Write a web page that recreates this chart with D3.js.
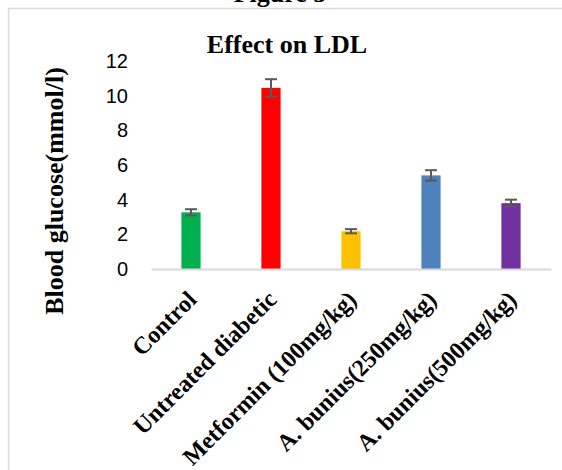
<!DOCTYPE html>
<html>
<head>
<meta charset="utf-8">
<script src="https://cdn.jsdelivr.net/npm/d3@7"></script>
<style>
  body { margin: 0; background: #fff; }
  svg { display: block; }
</style>
</head>
<body>
<script>
// chart data
var groups = ['Control', 'Untreated diabetic', 'Metformin (100mg/kg)', 'A. bunius(250mg/kg)', 'A. bunius(500mg/kg)'];
var ldlValues = [3.27, 10.45, 2.18, 5.4, 3.8];
var ldlErrors = [0.18, 0.5, 0.12, 0.3, 0.2];
var barColors = ['#00b050', '#ff0000', '#ffc000', '#4f81bd', '#7030a0'];
var yTicks = [0, 2, 4, 6, 8, 10, 12];

var width = 562, height = 470;
var plot = { left: 151, right: 551, top: 61, bottom: 269 };

var svg = d3.select('body').append('svg')
    .attr('width', width)
    .attr('height', height);

// frame of the figure (right and bottom edges run off the picture)
svg.append('rect')
    .attr('x', 8.5).attr('y', 8.5)
    .attr('width', 600).attr('height', 500)
    .attr('fill', 'none')
    .attr('stroke', '#d9d9d9')
    .attr('stroke-width', 1.5);

// caption, cut off at the top like in the source
svg.append('text')
    .attr('x', 280).attr('y', 2)
    .attr('text-anchor', 'middle')
    .style('font-family', '"Liberation Serif", serif')
    .style('font-weight', 'bold')
    .style('font-size', '26px')
    .text('Figure 5');

var x = d3.scaleBand()
    .domain(groups)
    .range([plot.left, plot.right])
    .paddingInner(0.76)
    .paddingOuter(0.38);

var y = d3.scaleLinear()
    .domain([0, 12])
    .range([plot.bottom, plot.top]);

// title
svg.append('text')
    .attr('x', 287).attr('y', 53)
    .attr('text-anchor', 'middle')
    .style('font-family', '"Liberation Serif", serif')
    .style('font-weight', 'bold')
    .style('font-size', '26px')
    .text('Effect on LDL');

// y axis: labels only
var yAxis = svg.append('g')
    .attr('transform', 'translate(' + (plot.left - 23) + ',0)')
    .call(d3.axisLeft(y).tickValues(yTicks).tickSize(0).tickPadding(0));
yAxis.select('.domain').remove();
yAxis.selectAll('text')
    .attr('fill', '#000')
    .style('font-family', '"Liberation Sans", Arial, sans-serif')
    .style('font-size', '20px');

// y axis title
svg.append('text')
    .attr('transform', 'translate(63,191) rotate(-90)')
    .attr('text-anchor', 'middle')
    .style('font-family', '"Liberation Serif", serif')
    .style('font-weight', 'bold')
    .style('font-size', '26px')
    .text('Blood glucose(mmol/l)');

// bars
svg.selectAll('.bar')
    .data(groups)
    .enter().append('rect')
    .attr('class', 'bar')
    .attr('x', function (d) { return x(d); })
    .attr('width', x.bandwidth())
    .attr('y', function (d, i) { return y(ldlValues[i]); })
    .attr('height', function (d, i) { return y(0) - y(ldlValues[i]); })
    .attr('fill', function (d, i) { return barColors[i]; });

// x axis line
var xAxis = svg.append('g')
    .attr('transform', 'translate(0,' + plot.bottom + ')')
    .call(d3.axisBottom(x).tickSize(0).tickFormat(''));
xAxis.select('.domain')
    .attr('stroke', '#d9d9d9')
    .attr('stroke-width', 2);

// error bars
var errGroup = svg.append('g')
    .attr('stroke', '#595959')
    .attr('stroke-width', 2);

groups.forEach(function (g, i) {
    var cx = x(g) + x.bandwidth() / 2;
    var top = y(ldlValues[i] + ldlErrors[i]);
    var bot = y(ldlValues[i] - ldlErrors[i]);
    errGroup.append('line')
        .attr('x1', cx).attr('x2', cx)
        .attr('y1', top).attr('y2', bot);
    errGroup.append('line')
        .attr('x1', cx - 6).attr('x2', cx + 6)
        .attr('y1', top).attr('y2', top);
    errGroup.append('line')
        .attr('x1', cx - 6).attr('x2', cx + 6)
        .attr('y1', bot).attr('y2', bot);
});

// category labels, rotated
svg.selectAll('.xlabel')
    .data(groups)
    .enter().append('text')
    .attr('class', 'xlabel')
    .attr('transform', function (d) {
        var cx = x(d) + x.bandwidth() / 2;
        return 'translate(' + (cx + 7) + ',' + (plot.bottom + 32) + ') rotate(-45)';
    })
    .attr('text-anchor', 'end')
    .style('font-family', '"Liberation Serif", serif')
    .style('font-weight', 'bold')
    .style('font-size', '24px')
    .text(function (d) { return d; });
</script>
</body>
</html>
